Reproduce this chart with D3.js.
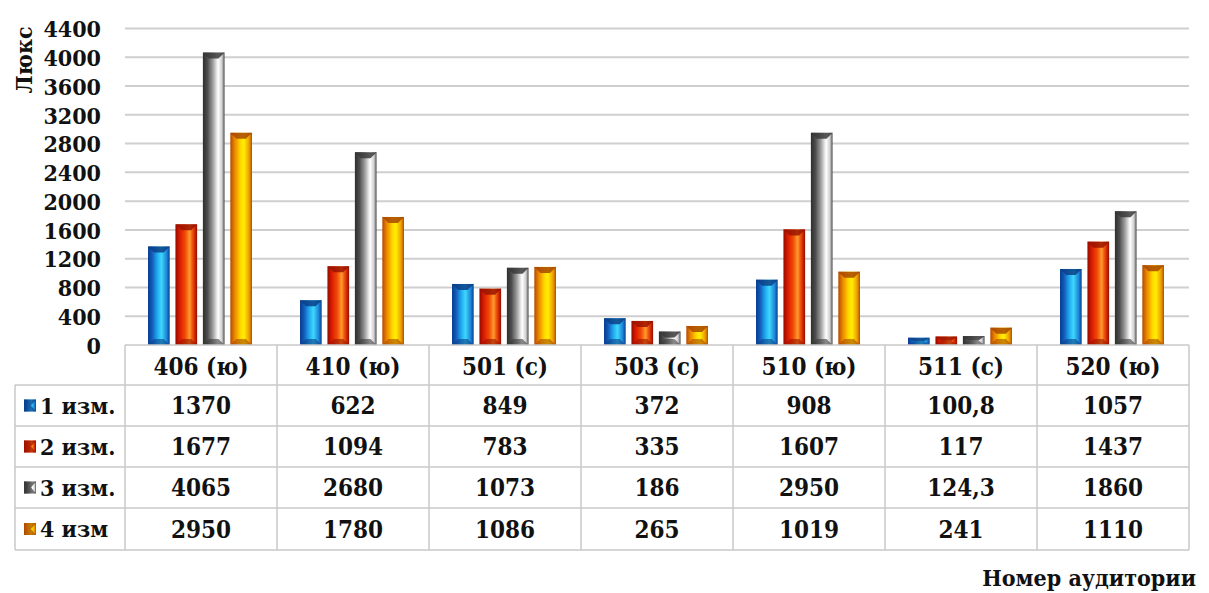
<!DOCTYPE html>
<html>
<head>
<meta charset="utf-8">
<script src="https://cdn.jsdelivr.net/npm/d3@7"></script>
<style>
  html, body { margin: 0; padding: 0; background: #fff; }
  svg text { font-family: "DejaVu Serif Condensed", "DejaVu Serif", serif !important; font-weight: bold; fill: #111; }
</style>
</head>
<body>
<svg id="chart" width="1209" height="593"></svg>
<script>
// Rooms (categories) and measurement series
const rooms = ["406 (ю)", "410 (ю)", "501 (с)", "503 (с)", "510 (ю)", "511 (с)", "520 (ю)"];
const seriesNames = ["1 изм.", "2 изм.", "3 изм.", "4 изм"];
const m1 = [1370, 622, 849, 372, 908, 100.8, 1057];
const m2 = [1677, 1094, 783, 335, 1607, 117, 1437];
const m3 = [4065, 2680, 1073, 186, 2950, 124.3, 1860];
const m4 = [2950, 1780, 1086, 265, 1019, 241, 1110];
const yTicks = [0, 400, 800, 1200, 1600, 2000, 2400, 2800, 3200, 3600, 4000, 4400];
const yTitle = "Люкс";
const xTitle = "Номер аудитории";

const series = [m1, m2, m3, m4];
const fmt = v => String(v).replace(".", ",");
const FONT = '"DejaVu Serif Condensed", "DejaVu Serif", serif';

// Bevel-style colour ramps for each series
const ramps = [
  { stops: [["0", "#0a3d8c"], ["0.18", "#1257b8"], ["0.42", "#1fa8ec"], ["0.62", "#3fd6ff"], ["0.86", "#1b86d6"], ["1", "#0b3f8f"]], cap: "#0c3f86" },
  { stops: [["0", "#8e0a00"], ["0.18", "#d81800"], ["0.45", "#f04a08"], ["0.65", "#ff9a2a"], ["0.86", "#e03000"], ["1", "#8e1000"]], cap: "#9a1400" },
  { stops: [["0", "#2e2e2e"], ["0.2", "#4a4a4a"], ["0.45", "#9a9a9a"], ["0.7", "#ffffff"], ["0.88", "#d0d0d0"], ["1", "#4a4a4a"]], cap: "#3a3a3a" },
  { stops: [["0", "#b04a00"], ["0.18", "#e88000"], ["0.45", "#ffd200"], ["0.62", "#fff200"], ["0.86", "#f0a000"], ["1", "#b05000"]], cap: "#a84800" }
];

const svg = d3.select("#chart");
const defs = svg.append("defs");
ramps.forEach((r, i) => {
  const g = defs.append("linearGradient").attr("id", "grad" + i)
    .attr("x1", "0").attr("x2", "1").attr("y1", "0").attr("y2", "0");
  r.stops.forEach(s => g.append("stop").attr("offset", s[0]).attr("stop-color", s[1]));
});

// Layout
const plotLeft = 125, plotRight = 1189, plotTop = 28.5, plotBottom = 345;
const rowHeaderLeft = 15;
const rowEdges = [345, 385, 426, 467, 508, 550];

const y = d3.scaleLinear().domain([0, 4400]).range([plotBottom, plotTop]);
const x0 = d3.scaleBand().domain(rooms).range([plotLeft, plotRight]).paddingInner(0).paddingOuter(0);
const x1 = d3.scaleBand().domain(d3.range(4)).range([23, 127]).paddingInner(0.21).paddingOuter(0);

// Gridlines
svg.append("g").selectAll("line").data(yTicks.filter(t => t > 0)).join("line")
  .attr("x1", plotLeft).attr("x2", plotRight)
  .attr("y1", d => y(d)).attr("y2", d => y(d))
  .attr("stroke", "#cfcfcf").attr("stroke-width", 2);

// Y axis labels
const yAxis = d3.axisLeft(y).tickValues(yTicks).tickSize(0).tickPadding(0).tickFormat(d3.format("d"));
const yg = svg.append("g").attr("transform", "translate(101,0)").call(yAxis);
yg.attr("font-family", FONT);
yg.select(".domain").remove();
yg.selectAll("text").attr("font-size", 23).attr("dy", "0.36em").style("font-family", FONT);

svg.append("text").attr("transform", "translate(32,60) rotate(-90)")
  .attr("text-anchor", "middle").attr("font-size", 23).style("font-family", FONT).text(yTitle);

// Bars
const groups = svg.append("g").selectAll("g").data(rooms).join("g")
  .attr("transform", d => `translate(${x0(d)},0)`);

groups.each(function (room, ci) {
  const g = d3.select(this);
  series.forEach((s, si) => {
    const v = s[ci];
    const bx = x1(si), bw = x1.bandwidth();
    const top = y(v), h = plotBottom - top;
    g.append("rect").attr("x", bx).attr("y", top).attr("width", bw).attr("height", h)
      .attr("fill", `url(#grad${si})`);
    const cap = Math.min(6, h / 2);
    g.append("polygon")
      .attr("points", [[bx, top], [bx + bw, top], [bx + bw * 0.72, top + cap], [bx + bw * 0.28, top + cap]].map(p => p.join(",")).join(" "))
      .attr("fill", ramps[si].cap).attr("opacity", 0.85);
    g.append("polygon")
      .attr("points", [[bx, plotBottom], [bx + bw, plotBottom], [bx + bw * 0.72, plotBottom - cap], [bx + bw * 0.28, plotBottom - cap]].map(p => p.join(",")).join(" "))
      .attr("fill", ramps[si].cap).attr("opacity", 0.6);
  });
});

// Data table
const tbl = svg.append("g");
const border = "#c9c9c9";
const hline = (xa, xb, yy) => tbl.append("line").attr("x1", xa).attr("x2", xb).attr("y1", yy).attr("y2", yy).attr("stroke", border).attr("stroke-width", 1.5);
const vline = (xx, ya, yb) => tbl.append("line").attr("x1", xx).attr("x2", xx).attr("y1", ya).attr("y2", yb).attr("stroke", border).attr("stroke-width", 1.5);
hline(plotLeft, plotRight, rowEdges[0]);
rowEdges.slice(1).forEach(yy => hline(rowHeaderLeft, plotRight, yy));
vline(rowHeaderLeft, rowEdges[1], rowEdges[5]);
rooms.forEach(r => vline(x0(r), rowEdges[0], rowEdges[5]));
vline(plotRight, rowEdges[0], rowEdges[5]);

// category header
tbl.selectAll("text.cat").data(rooms).join("text").attr("class", "cat")
  .attr("x", d => x0(d) + x0.bandwidth() / 2).attr("y", (rowEdges[0] + rowEdges[1]) / 2 + 1)
  .attr("dy", "0.36em").attr("text-anchor", "middle").attr("font-size", 24).style("font-family", FONT).text(d => d);

// rows
series.forEach((s, si) => {
  const cy = (rowEdges[si + 1] + rowEdges[si + 2]) / 2;
  tbl.append("rect").attr("x", 24).attr("y", cy - 6).attr("width", 12).attr("height", 12)
    .attr("fill", `url(#grad${si})`);
  tbl.append("polygon")
    .attr("points", [[24, cy - 6], [36, cy - 6], [31, cy], [36, cy + 6], [24, cy + 6]].map(p => p.join(",")).join(" "))
    .attr("fill", ramps[si].cap).attr("opacity", 0.7);
  tbl.append("text").attr("x", 40).attr("y", cy).attr("dy", "0.36em")
    .attr("font-size", 23).style("font-family", FONT).text(seriesNames[si]);
  tbl.selectAll(null).data(s).join("text")
    .attr("x", (d, i) => x0(rooms[i]) + x0.bandwidth() / 2).attr("y", cy).attr("dy", "0.36em")
    .attr("text-anchor", "middle").attr("font-size", 24).style("font-family", FONT).text(d => fmt(d));
});

svg.append("text").attr("x", 1196).attr("y", 578).attr("dy", "0.36em").attr("text-anchor", "end")
  .attr("font-size", 23).style("font-family", FONT).text(xTitle);
</script>
</body>
</html>
